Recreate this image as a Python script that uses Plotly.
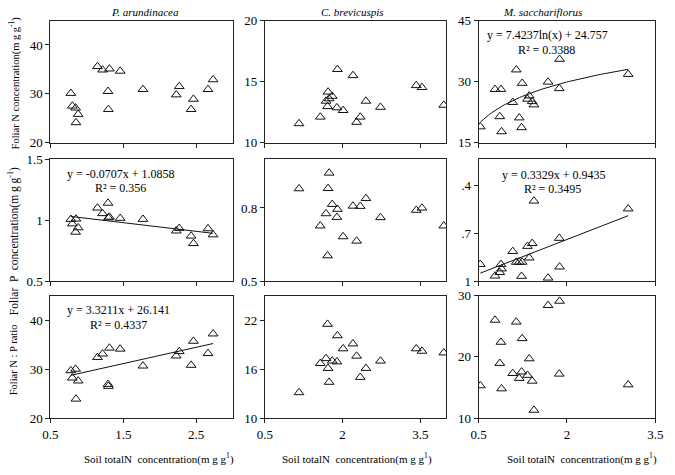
import numpy as np
import plotly.graph_objects as go

# ---------------- data ----------------
species = ["P. arundinacea", "C. brevicuspis", "M. sacchariflorus"]

# P. arundinacea
pa_soil_n = [0.78, 0.80, 0.845, 0.85, 0.88, 1.145, 1.215, 1.29, 1.295, 1.31, 1.457, 1.77,
             2.227, 2.268, 2.431, 2.463, 2.663, 2.733]
pa_foliar_n = [30.1, 27.5, 27.1, 24.1, 25.8, 35.6, 34.9, 30.5, 26.8, 35.1, 34.65, 30.9,
               29.8, 31.5, 26.8, 28.9, 30.9, 32.9]
pa_foliar_p = [1.008, 0.971, 0.903, 1.01, 0.939, 1.10, 1.055, 1.14, 1.02, 1.026, 1.016, 1.008,
               0.913, 0.934, 0.871, 0.81, 0.931, 0.881]
pa_np_ratio = [29.7, 28.2, 30.0, 23.9, 27.6, 32.4, 33.1, 26.9, 26.5, 34.3, 34.1, 30.65,
               32.7, 33.6, 30.8, 35.7, 33.2, 37.2]

# C. brevicuspis
cb_soil_n = [1.16, 1.57, 1.68, 1.71, 1.72, 1.74, 1.80, 1.89, 1.90, 2.01, 2.20, 2.27,
             2.34, 2.45, 2.73, 3.42, 3.53, 3.95]
cb_foliar_n = [11.56, 12.1, 13.4, 12.96, 14.15, 13.6, 13.8, 12.86, 16.0, 12.64, 15.5, 11.67,
               12.1, 13.4, 12.9, 14.68, 14.52, 13.07]
cb_foliar_p = [0.879, 0.727, 0.777, 0.605, 0.880, 0.943, 0.815, 0.762, 0.795, 0.683, 0.808, 0.665,
               0.807, 0.839, 0.761, 0.791, 0.80, 0.727]
cb_np_ratio = [13.13, 16.7, 17.3, 21.5, 16.1, 14.4, 17.0, 16.9, 20.1, 18.5, 19.1, 17.6,
               15.0, 16.1, 17.0, 18.5, 18.2, 18.0]

# M. sacchariflorus
ms_soil_n = [0.53, 0.78, 0.86, 0.88, 0.89, 1.08, 1.14, 1.19, 1.23, 1.24, 1.33, 1.36,
             1.41, 1.44, 1.68, 1.87, 1.875, 3.04]
ms_foliar_n = [18.9, 28.1, 21.4, 28.1, 17.7, 24.9, 32.9, 21.1, 18.7, 29.6, 25.7, 26.5,
               25.1, 24.3, 29.9, 28.3, 35.5, 31.8]
ms_foliar_p = [1.248, 1.079, 1.131, 1.248, 1.183, 1.437, 1.28, 1.28, 1.075, 1.28, 1.511, 1.342,
               1.553, 2.17, 1.05, 1.628, 1.211, 2.056]
ms_np_ratio = [15.3, 26.0, 18.95, 22.4, 14.8, 17.3, 25.7, 16.5, 17.55, 23.0, 17.0, 19.7,
               16.05, 11.3, 28.4, 17.2, 29.1, 15.45]

# fitted trend lines (slope/coef, intercept, R2)
pa_p_fit = (-0.0707, 1.0858, 0.356)
pa_ratio_fit = (3.3211, 26.141, 0.4337)
ms_n_fit = (7.4237, 24.757, 0.3388)      # logarithmic
ms_p_fit = (0.3329, 0.9435, 0.3495)

# axes
x_ticks = [[0.5, 1.5, 2.5], [0.5, 2, 3.5], [0.5, 2, 3.5]]
x_tick_text = [["0.5", "1.5", "2.5"], ["0.5", "2", "3.5"], ["0.5", "2", "3.5"]]
x_ranges = [[0.5, 3.0], [0.5, 4.0], [0.5, 3.5]]

y_ticks = [
    [[20, 30, 40], [10, 15, 20], [15, 30, 45]],
    [[0.5, 1, 1.5], [0.5, 0.8], [1, 1.7, 2.4]],
    [[20, 30, 40], [10, 16, 22], [10, 20, 30]],
]
y_tick_text = [
    [["20", "30", "40"], ["10", "15", "20"], ["15", "30", "45"]],
    [["0.5", "1", "1.5"], ["0.5", "0.8"], ["1", ".7", ".4"]],
    [["20", "30", "40"], ["10", "16", "22"], ["10", "20", "30"]],
]
y_ranges = [
    [[20, 45], [10, 20], [15, 45]],
    [[0.5, 1.5], [0.5, 1.0], [1, 2.78]],
    [[20, 45], [10, 25], [10, 30]],
]

y_titles = ["Foliar N concentration(m g g<sup>-1</sup>)",
            "Foliar  P  concentration(m g g<sup>-1</sup>)",
            "Foliar N : P ratio"]
x_title = "Soil totalN  concentration(m g g<sup>1</sup>)"

# ---------------- layout geometry (pixels) ----------------
W, H = 675, 475
cols_px = [(43.5, 230), (263, 449), (482, 663)]
rows_px = [(14, 140), (157, 283.3), (298, 424.5)]

FONT = "Liberation Serif"

xs = [pa_soil_n, cb_soil_n, ms_soil_n]
ys = [
    [pa_foliar_n, cb_foliar_n, ms_foliar_n],
    [pa_foliar_p, cb_foliar_p, ms_foliar_p],
    [pa_np_ratio, cb_np_ratio, ms_np_ratio],
]

fig = go.Figure()
layout = dict(
    width=W, height=H,
    margin=dict(l=0, r=0, t=0, b=0),
    paper_bgcolor="white", plot_bgcolor="white",
    showlegend=False,
    font=dict(family=FONT, size=13, color="black"),
)


def axname(p, kind):
    return f"{kind}axis" if p == 0 else f"{kind}axis{p + 1}"


def axref(p, kind):
    return kind if p == 0 else f"{kind}{p + 1}"


for r in range(3):
    for c in range(3):
        p = r * 3 + c
        xl, xr = cols_px[c]
        yt, yb = rows_px[r]
        layout[axname(p, "x")] = dict(
            domain=[xl / W, xr / W], anchor=axref(p, "y"),
            range=x_ranges[c], tickvals=x_ticks[c],
            ticktext=x_tick_text[c] if r == 2 else [""] * len(x_ticks[c]),
            showgrid=False, zeroline=False,
            showline=True, mirror=True, linecolor="#222", linewidth=1,
            ticks="outside", ticklen=4, tickcolor="#222",
            tickfont=dict(family=FONT, size=13, color="black"),
        )
        layout[axname(p, "y")] = dict(
            domain=[1 - yb / H, 1 - yt / H], anchor=axref(p, "x"),
            range=y_ranges[r][c], tickvals=y_ticks[r][c], ticktext=y_tick_text[r][c],
            showgrid=False, zeroline=False,
            showline=True, mirror=True, linecolor="#222", linewidth=1,
            ticks="outside", ticklen=4, tickcolor="#222",
            tickfont=dict(family=FONT, size=13, color="black"),
        )
        fig.add_trace(go.Scatter(
            x=xs[c], y=ys[r][c], mode="markers",
            marker=dict(symbol="triangle-up-open", size=8.5, color="#111",
                        line=dict(width=1, color="#111")),
            xaxis=axref(p, "x"), yaxis=axref(p, "y"),
            hoverinfo="skip",
        ))


def add_fit(p, xdata, fit, kind="linear"):
    a, b, _ = fit
    if kind == "linear":
        xx = np.array([min(xdata), max(xdata)])
        yy = a * xx + b
    else:
        xx = np.linspace(min(xdata), max(xdata), 80)
        yy = a * np.log(xx) + b
    fig.add_trace(go.Scatter(x=xx, y=yy, mode="lines",
                             line=dict(color="#111", width=1),
                             xaxis=axref(p, "x"), yaxis=axref(p, "y"),
                             hoverinfo="skip"))


add_fit(3, pa_soil_n, pa_p_fit)
add_fit(6, pa_soil_n, pa_ratio_fit)
add_fit(2, ms_soil_n, ms_n_fit, kind="log")
add_fit(5, ms_soil_n, ms_p_fit)


def fmt_lin(fit):
    a, b, _ = fit
    return f"y = {a}x + {b}"


annotations = []


def ann(text, xp, yp, size=12, angle=0, italic=False):
    annotations.append(dict(
        text=text, x=xp / W, y=1 - yp / H, xref="paper", yref="paper",
        showarrow=False, xanchor="center", yanchor="middle", textangle=angle,
        font=dict(family=FONT, size=size, color="black",
                  style="italic" if italic else "normal"),
    ))


# species titles
ann(species[0], 140, 5, size=11, italic=True)
ann(species[1], 353, 5, size=11, italic=True)
ann(species[2], 547, 5, size=11, italic=True)

# equations
ann(fmt_lin(pa_p_fit), 116, 172)
ann(f"R² = {pa_p_fit[2]}", 115, 187)
ann(fmt_lin(pa_ratio_fit), 113, 313)
ann(f"R² = {pa_ratio_fit[2]}", 113, 328)
ann(f"y = {ms_n_fit[0]}ln(x) + {ms_n_fit[1]}", 553, 29)
ann(f"R² = {ms_n_fit[2]}", 552, 44)
ann(fmt_lin(ms_p_fit), 559, 173)
ann(f"R² = {ms_p_fit[2]}", 558, 188)

# axis titles
ann(y_titles[0], 6, 78, size=10.5, angle=-90)
ann(y_titles[1], 6, 242, size=11.5, angle=-90)
ann(y_titles[2], 6, 364, size=10.5, angle=-90)
ann(x_title, 155, 466, size=11)
ann(x_title, 357, 466, size=11)
ann(x_title, 588, 466, size=11)

layout["annotations"] = annotations
fig.update_layout(**layout)
fig.write_html("out.html", config={"displayModeBar": False},
               post_script="document.body.style.margin='0px';")
